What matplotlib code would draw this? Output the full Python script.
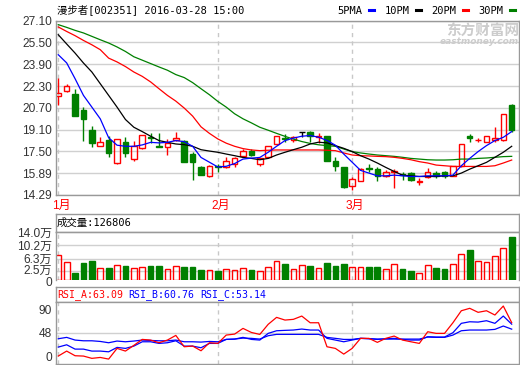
import numpy as np
import matplotlib
matplotlib.use('Agg')
import matplotlib.pyplot as plt
import matplotlib.transforms as mtransforms
from matplotlib.lines import Line2D

# daily candles, 2016-01 .. 2016-03-28
opens = [21.56, 21.93, 21.73, 20.55, 19.08, 17.87, 18.34, 16.61, 18.16, 16.93,
         17.72, 18.53, 17.92, 17.80, 18.34, 18.29, 17.30, 16.32, 15.70, 16.40,
         16.32, 16.56, 17.18, 17.55, 16.55, 17.06, 18.04, 18.48, 18.36, 18.92,
         18.95, 18.55, 18.66, 16.81, 16.37, 14.92, 15.33, 16.24, 16.19, 15.65,
         15.98, 15.83, 15.90, 15.28, 15.58, 15.92, 15.95, 15.70, 16.39, 18.61,
         18.32, 18.16, 18.36, 18.36, 20.92]
highs = [22.89, 22.45, 22.05, 20.75, 19.37, 18.53, 18.66, 18.41, 18.53, 18.29,
         18.71, 18.85, 18.85, 18.41, 18.95, 18.34, 17.43, 16.39, 16.49, 16.56,
         17.06, 17.06, 17.67, 17.67, 17.01, 17.87, 18.66, 18.77, 18.61, 18.92,
         19.03, 18.85, 18.66, 17.06, 16.37, 15.58, 16.24, 16.56, 16.32, 16.15,
         16.19, 16.00, 15.95, 15.51, 16.24, 16.07, 16.07, 16.44, 18.04, 18.78,
         18.46, 18.61, 19.32, 20.26, 21.00]
lows = [20.87, 21.86, 20.06, 18.29, 17.84, 17.87, 17.11, 16.58, 17.11, 16.76,
        17.67, 18.12, 17.80, 17.25, 18.29, 16.69, 15.41, 15.78, 15.58, 15.95,
        16.24, 16.32, 17.13, 17.13, 16.43, 17.01, 17.97, 18.20, 18.21, 18.58,
        18.21, 18.14, 16.76, 16.07, 14.77, 14.67, 15.31, 15.95, 15.33, 15.63,
        14.84, 15.41, 15.33, 15.01, 15.51, 15.51, 15.51, 15.65, 16.32, 18.16,
        18.21, 18.16, 18.21, 18.29, 18.95]
closes = [21.76, 22.30, 20.13, 19.84, 18.09, 18.16, 17.35, 18.41, 17.35, 17.87,
          18.71, 18.46, 17.84, 18.12, 18.51, 16.69, 16.69, 15.78, 16.44, 16.33,
          16.81, 17.01, 17.55, 17.20, 16.99, 17.87, 18.61, 18.43, 18.53, 18.92,
          18.64, 18.59, 16.81, 16.44, 14.89, 15.46, 16.19, 16.21, 15.65, 15.95,
          16.02, 15.78, 15.41, 15.31, 15.95, 15.70, 15.65, 16.39, 18.04, 18.51,
          18.36, 18.61, 18.46, 20.26, 19.10]

ma5 = [24.6, 24.0, 22.84, 21.61, 20.75, 19.89, 18.5, 17.95, 17.87, 17.87,
       17.97, 18.16, 18.12, 18.16, 18.29, 18.21, 17.87, 17.05, 16.70, 16.35,
       16.40, 16.60, 16.93, 17.00, 17.05, 17.43, 17.87, 18.29, 18.47, 18.61,
       18.66, 18.54, 18.30, 17.95, 17.30, 16.70, 16.10, 15.90, 15.70, 15.70,
       15.75, 15.70, 15.65, 15.65, 15.70, 15.70, 15.70, 15.75, 16.44, 16.98,
       17.48, 17.92, 18.29, 18.53, 18.95]
ma10 = [26.07, 25.39, 24.72, 23.99, 23.33, 22.47, 21.61, 20.75, 19.84, 19.27,
        18.95, 18.61, 18.29, 18.16, 18.04, 17.99, 17.87, 17.62, 17.52, 17.43,
        17.30, 17.18, 17.05, 16.98, 16.88, 16.98, 17.23, 17.43, 17.62, 17.80,
        18.04, 18.17, 18.12, 17.92, 17.72, 17.48, 17.18, 16.93, 16.64, 16.32,
        16.02, 15.75, 15.70, 15.65, 15.65, 15.65, 15.70, 15.70, 15.90, 16.19,
        16.44, 16.69, 17.06, 17.43, 17.87]
ma20 = [26.64, 26.31, 26.00, 25.65, 25.33, 24.97, 24.35, 24.07, 23.73, 23.33,
        23.01, 22.60, 22.10, 21.61, 21.19, 20.68, 20.09, 19.30, 18.82, 18.41,
        18.10, 17.87, 17.70, 17.60, 17.55, 17.58, 17.60, 17.60, 17.60, 17.60,
        17.60, 17.60, 17.58, 17.55, 17.38, 17.23, 17.18, 17.16, 17.13, 17.11,
        17.06, 16.98, 16.88, 16.74, 16.64, 16.49, 16.44, 16.39, 16.39, 16.39,
        16.39, 16.39, 16.44, 16.64, 16.86]
ma30 = [26.81, 26.61, 26.39, 26.20, 25.95, 25.70, 25.46, 25.17, 24.84, 24.45,
        24.20, 23.95, 23.70, 23.46, 23.14, 22.92, 22.55, 22.10, 21.66, 21.17,
        20.75, 20.26, 19.89, 19.59, 19.27, 19.05, 18.82, 18.60, 18.40, 18.22,
        18.08, 17.98, 17.92, 17.87, 17.67, 17.48, 17.38, 17.30, 17.23, 17.18,
        17.13, 17.06, 16.98, 16.93, 16.88, 16.86, 16.86, 16.88, 16.93, 16.93,
        16.98, 17.01, 17.06, 17.11, 17.13]

volume = [72800, 52500, 19900, 50400, 55500, 36200, 34200, 43300, 40300, 36200,
          39200, 40300, 40300, 33100, 42300, 39200, 39200, 28100, 30100, 25000,
          33100, 28100, 36200, 28100, 25000, 39200, 54500, 46400, 33100, 45300,
          40300, 36200, 49400, 40300, 46400, 39200, 39200, 39200, 37200, 33100,
          48400, 31100, 25000, 20900, 45300, 34200, 31100, 48400, 76900, 89100,
          54500, 52500, 69800, 94200, 126806]

rsi_a = [12.1, 19.7, 12.6, 12.1, 8.6, 10.0, 7.5, 23.8, 19.7, 28.4,
         37.5, 36.5, 32.4, 36.5, 43.6, 26.3, 27.4, 20.2, 32.4, 31.4,
         44.1, 45.6, 54.3, 48.1, 45.1, 60.5, 71.1, 67.0, 68.1, 73.1,
         62.9, 62.9, 26.3, 23.8, 15.1, 23.8, 39.1, 39.1, 33.0, 39.1,
         42.6, 36.5, 33.9, 31.4, 49.2, 46.7, 46.7, 62.9, 81.2, 84.9,
         78.8, 81.2, 74.7, 88.4, 63.09]
rsi_b = [25.8, 29.3, 22.7, 22.7, 19.7, 19.7, 18.6, 25.3, 23.8, 27.3,
         33.9, 33.9, 31.4, 32.4, 35.4, 27.3, 27.3, 24.8, 31.4, 31.4,
         37.5, 38.0, 40.6, 37.5, 36.5, 46.7, 50.7, 51.3, 51.8, 53.3,
         51.8, 51.8, 39.1, 36.5, 33.9, 36.5, 39.1, 38.6, 37.5, 38.6,
         39.1, 37.5, 36.5, 36.5, 41.6, 41.1, 41.1, 47.7, 62.0, 64.4,
         63.9, 66.0, 62.0, 73.1, 60.76]
rsi_c = [38.5, 40.6, 36.5, 35.4, 35.4, 34.4, 32.4, 35.0, 33.9, 35.0,
         36.5, 35.9, 35.4, 35.4, 36.5, 33.9, 33.9, 33.4, 34.4, 33.9,
         37.5, 38.0, 39.5, 39.1, 38.0, 43.1, 45.2, 45.2, 45.2, 45.2,
         45.2, 45.2, 40.6, 39.1, 37.5, 37.5, 39.1, 38.6, 38.0, 38.0,
         38.0, 38.0, 38.0, 38.0, 41.1, 40.6, 40.6, 44.1, 50.7, 51.8,
         51.8, 51.8, 52.8, 57.9, 53.14]

month_pos = [0, 19, 35]
month_labels = ['1月', '2月', '3月']
price_ticks = [14.29, 15.89, 17.50, 19.10, 20.70, 22.30, 23.90, 25.50, 27.10]
vol_ticks = [0, 25000, 63000, 102000, 140000]
vol_labels = ['0', '2.5万', '6.3万', '10.2万', '14.0万']
rsi_ticks = [0, 48, 90]

W, H = 520, 365
RED, GREEN, BLUE = '#ff0000', '#008000', '#0000ff'
FRAME, GRID, DASH, TXT = '#999999', '#d0d0d0', '#c8c8c8', '#333333'
TICK_FONT = ['Liberation Sans', 'Noto Sans CJK SC']
MONO_FONT = ['DejaVu Sans Mono', 'Noto Sans CJK SC']

plt.rcParams['font.family'] = TICK_FONT


def px_box(l, t, r, b):
    return [l / W, 1 - b / H, (r - l) / W, (b - t) / H]


def frame(ax):
    for s in ax.spines.values():
        s.set_color(FRAME)
        s.set_linewidth(1)
    ax.tick_params(length=0, pad=3, labelsize=8.6, labelcolor=TXT)
    ax.set_xlim(-0.27, 54.87)


def month_lines(ax):
    for p in month_pos:
        ax.axvline(p, color=DASH, lw=1, ls=(0, (3, 3)), zorder=0.5)


def nudge(label, dy_px):
    off = mtransforms.ScaledTranslation(0, dy_px / 100, fig.dpi_scale_trans)
    label.set_transform(label.get_transform() + off)


fig = plt.figure(figsize=(W / 100, H / 100), dpi=100)

x = np.arange(len(closes))
o, h, l, c = map(np.array, (opens, highs, lows, closes))
up = c > o
dn = c < o
flat = c == o

# ---- price panel
ax = fig.add_axes(px_box(56, 20.7, 519, 195))
frame(ax)
ax.set_ylim(14.29, 27.10)
ax.set_yticks(price_ticks, ['%.2f' % t for t in price_ticks])
ax.set_xticks([])
for t in price_ticks:
    ax.axhline(t, color=GRID, lw=1, zorder=0.4)
month_lines(ax)

bw = 0.66
ax.bar(x[up], (c - o)[up], bottom=o[up], width=bw, fill=False,
       edgecolor=RED, linewidth=1, zorder=2)
ax.vlines(x[up], c[up], h[up], color=RED, lw=1, zorder=2)
ax.vlines(x[up], l[up], o[up], color=RED, lw=1, zorder=2)
ax.bar(x[dn], (o - c)[dn], bottom=c[dn], width=bw, color=GREEN,
       edgecolor=GREEN, linewidth=1, zorder=2)
ax.vlines(x[dn], l[dn], h[dn], color=GREEN, lw=1, zorder=2)
ax.hlines(o[flat], x[flat] - bw / 2, x[flat] + bw / 2, color='black', lw=1, zorder=2)
ax.vlines(x[flat], l[flat], h[flat], color='black', lw=1, zorder=2)

ax.plot(x, ma30, color=GREEN, lw=0.9, zorder=3)
ax.plot(x, ma20, color=RED, lw=0.9, zorder=3)
ax.plot(x, ma10, color='black', lw=0.9, zorder=3)
ax.plot(x, ma5, color=BLUE, lw=0.9, zorder=3)

for p, lab in zip(month_pos, month_labels):
    ax.annotate(lab, xy=(p, 0), xycoords=('data', 'axes fraction'),
                xytext=(3, -10.7), textcoords='offset pixels',
                ha='center', va='center', color=RED, fontsize=8.6,
                annotation_clip=False)

# watermark
ax.text(519 / W, 1 - 31 / H, '东方财富网', transform=fig.transFigure,
        ha='right', va='center', color='#cccccc', fontsize=10.5,
        fontweight='bold', family=['Noto Sans CJK SC'], zorder=1)
ax.text(519 / W, 1 - 42 / H, 'eastmoney.com', transform=fig.transFigure,
        ha='right', va='center', color='#cccccc', fontsize=6.5,
        fontweight='bold', style='italic', family=['DejaVu Sans'], zorder=1)

fig.text(57 / W, 1 - 9.5 / H, '漫步者[002351] 2016-03-28 15:00',
         ha='left', va='center', fontsize=7.5, family=MONO_FONT, color='black')

handles = [Line2D([], [], color=col, lw=2.2) for col in (BLUE, 'black', RED, GREEN)]
fig.legend(handles, ['5PMA', '10PM', '20PM', '30PM'], loc='center right',
           bbox_to_anchor=(515 / W, 1 - 10.5 / H), ncol=4, markerfirst=False,
           frameon=False, handlelength=0.5, handletextpad=0.65,
           columnspacing=0.95, borderpad=0, borderaxespad=0,
           prop={'family': MONO_FONT, 'size': 7.5})

# ---- volume panel
band_v = fig.add_axes(px_box(56, 214, 519, 232.3))
frame(band_v)
band_v.set_xticks([])
band_v.set_yticks([])
fig.text(57 / W, 1 - 223 / H, '成交量:%d' % volume[-1], ha='left', va='center',
         fontsize=7.5, family=MONO_FONT, color='black')

axv = fig.add_axes(px_box(56, 232.3, 519, 280))
frame(axv)
axv.spines['bottom'].set_visible(False)
axv.set_ylim(0, 140000)
axv.set_yticks(vol_ticks, vol_labels)
axv.set_xticks([])
vlabs = axv.get_yticklabels()
nudge(vlabs[0], -1.0)
nudge(vlabs[1], 2.5)
for t in vol_ticks[1:]:
    axv.axhline(t, color=GRID, lw=1, zorder=0.4)
month_lines(axv)
v = np.array(volume)
vup = c >= o
axv.bar(x[vup], v[vup], width=0.68, fill=False, edgecolor=RED, linewidth=1, zorder=2)
axv.bar(x[~vup], v[~vup], width=0.68, color=GREEN, edgecolor=GREEN, linewidth=1, zorder=2)

# ---- RSI panel
band_r = fig.add_axes(px_box(56, 287.3, 519, 301.7))
frame(band_r)
band_r.set_xticks([])
band_r.set_yticks([])
for xp, txt, col in [(57, 'RSI_A:%.2f' % rsi_a[-1], RED),
                     (128.3, 'RSI_B:%.2f' % rsi_b[-1], BLUE),
                     (200, 'RSI_C:%.2f' % rsi_c[-1], BLUE)]:
    fig.text(xp / W, 1 - 294.5 / H, txt, ha='left', va='center',
             fontsize=7.1, family=MONO_FONT, color=col)

axr = fig.add_axes(px_box(56, 301.7, 519, 364))
frame(axr)
axr.set_ylim(0, 95)
axr.set_yticks(rsi_ticks, [str(t) for t in rsi_ticks])
axr.set_xticks([])
axr.axhline(48, color=GRID, lw=1, zorder=0.4)
month_lines(axr)
labs = axr.get_yticklabels()
labs[0].set_va('bottom')
labs[2].set_va('top')
axr.plot(x, rsi_c, color=BLUE, lw=0.9)
axr.plot(x, rsi_b, color=BLUE, lw=0.9)
axr.plot(x, rsi_a, color=RED, lw=0.9)

fig.savefig('out.png', dpi=100)
